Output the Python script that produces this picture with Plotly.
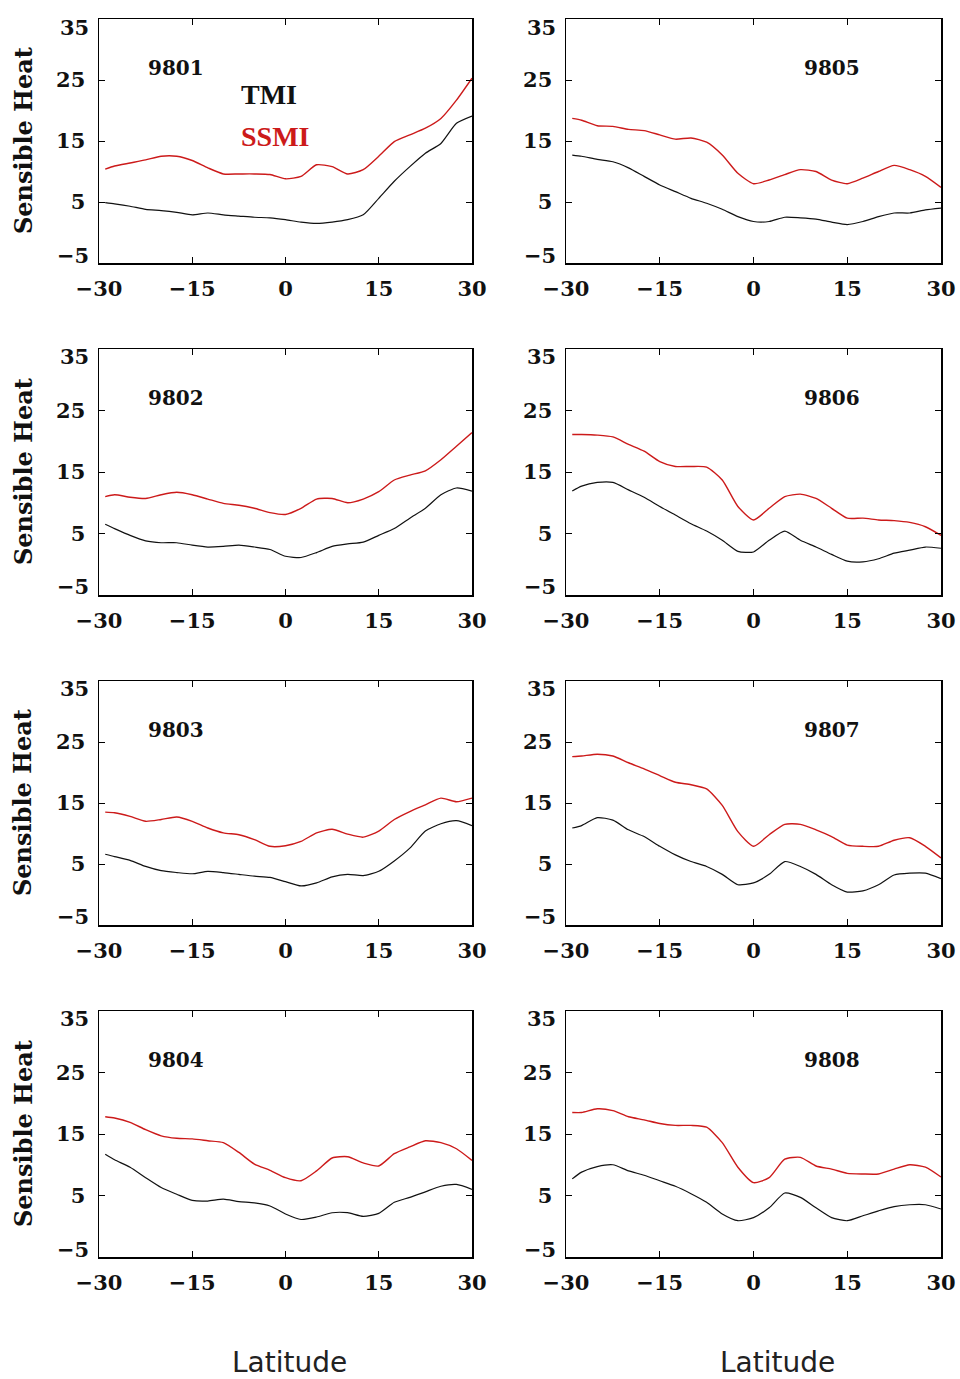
import plotly.graph_objects as go

# ---------------- data ----------------
LAT = [-29, -27.5, -25, -22.5, -20, -17.5, -15, -12.5, -10, -7.5, -5, -2.5, 0,
       2.5, 5, 7.5, 10, 12.5, 15, 17.5, 20, 22.5, 25, 27.5, 30]

MONTHS = ["9801", "9802", "9803", "9804", "9805", "9806", "9807", "9808"]

TMI_9801 = [4.9, 4.7, 4.3, 3.8, 3.6, 3.3, 2.9, 3.2, 2.9, 2.7, 2.5, 2.4, 2.1,
            1.7, 1.5, 1.7, 2.1, 2.9, 5.6, 8.4, 10.8, 13.0, 14.6, 17.9, 19.1]
SSMI_9801 = [10.4, 10.9, 11.4, 11.9, 12.5, 12.5, 11.8, 10.6, 9.6, 9.6, 9.6, 9.5, 8.8,
             9.2, 11.1, 10.8, 9.6, 10.3, 12.5, 14.9, 16.0, 17.1, 18.7, 21.7, 25.3]

TMI_9802 = [6.5, 5.8, 4.7, 3.8, 3.5, 3.5, 3.1, 2.8, 2.9, 3.1, 2.8, 2.4, 1.3,
            1.1, 1.9, 2.9, 3.3, 3.6, 4.7, 5.8, 7.5, 9.1, 11.3, 12.4, 11.9]
SSMI_9802 = [11.0, 11.3, 10.9, 10.7, 11.3, 11.7, 11.3, 10.6, 9.9, 9.6, 9.1, 8.4, 8.1,
             9.1, 10.6, 10.7, 10.0, 10.6, 11.8, 13.7, 14.5, 15.2, 17.0, 19.2, 21.4]

TMI_9803 = [6.6, 6.2, 5.6, 4.6, 3.9, 3.6, 3.4, 3.8, 3.6, 3.3, 3.0, 2.8, 2.1,
            1.4, 1.9, 2.9, 3.3, 3.1, 3.8, 5.5, 7.6, 10.4, 11.6, 12.1, 11.3]
SSMI_9803 = [13.5, 13.4, 12.8, 12.0, 12.3, 12.7, 12.0, 10.9, 10.1, 9.8, 9.0, 7.9, 8.0,
             8.7, 10.1, 10.7, 9.9, 9.4, 10.4, 12.3, 13.6, 14.7, 15.8, 15.2, 15.8]

TMI_9804 = [11.7, 10.8, 9.6, 7.9, 6.3, 5.2, 4.2, 4.1, 4.4, 4.0, 3.8, 3.3, 2.0,
            1.1, 1.5, 2.2, 2.2, 1.6, 2.1, 3.9, 4.7, 5.6, 6.5, 6.8, 6.0]
SSMI_9804 = [17.8, 17.6, 16.9, 15.7, 14.7, 14.3, 14.2, 13.9, 13.6, 12.0, 10.1, 9.1, 7.9,
             7.4, 9.0, 11.1, 11.3, 10.3, 9.8, 11.8, 12.9, 13.9, 13.6, 12.6, 10.7]

TMI_9805 = [12.7, 12.5, 12.0, 11.6, 10.6, 9.2, 7.8, 6.7, 5.6, 4.8, 3.8, 2.6, 1.8,
            1.8, 2.5, 2.4, 2.2, 1.7, 1.3, 1.8, 2.6, 3.2, 3.2, 3.7, 4.0]
SSMI_9805 = [18.7, 18.4, 17.5, 17.4, 16.9, 16.7, 16.0, 15.3, 15.5, 14.8, 12.7, 9.7, 8.0,
             8.6, 9.5, 10.3, 10.0, 8.6, 8.0, 8.9, 10.0, 11.0, 10.3, 9.2, 7.4]

TMI_9806 = [11.9, 12.7, 13.3, 13.3, 12.1, 10.9, 9.4, 8.0, 6.6, 5.4, 3.9, 2.1, 2.0,
            3.9, 5.4, 3.9, 2.8, 1.6, 0.5, 0.4, 0.9, 1.8, 2.3, 2.8, 2.6]
SSMI_9806 = [21.1, 21.1, 21.0, 20.7, 19.5, 18.4, 16.7, 15.9, 15.9, 15.8, 13.7, 9.4, 7.2,
             9.1, 11.0, 11.4, 10.7, 9.1, 7.5, 7.5, 7.2, 7.1, 6.8, 6.1, 4.7]

TMI_9807 = [10.9, 11.3, 12.6, 12.2, 10.6, 9.5, 7.9, 6.5, 5.4, 4.6, 3.3, 1.6, 1.9,
            3.3, 5.4, 4.6, 3.3, 1.6, 0.4, 0.6, 1.6, 3.2, 3.5, 3.5, 2.6]
SSMI_9807 = [22.6, 22.7, 23.0, 22.7, 21.6, 20.6, 19.5, 18.4, 18.0, 17.3, 14.6, 10.3, 7.9,
             9.8, 11.5, 11.5, 10.6, 9.5, 8.1, 7.9, 7.9, 8.9, 9.3, 7.9, 6.0]

TMI_9808 = [7.7, 8.8, 9.7, 10.0, 9.0, 8.3, 7.4, 6.5, 5.3, 3.9, 2.0, 0.9, 1.4,
            3.0, 5.4, 4.7, 3.0, 1.4, 0.9, 1.7, 2.5, 3.2, 3.5, 3.5, 2.8]
SSMI_9808 = [18.5, 18.5, 19.1, 18.8, 17.8, 17.3, 16.7, 16.4, 16.4, 16.1, 13.6, 9.6, 7.1,
             7.9, 10.9, 11.2, 9.8, 9.3, 8.6, 8.5, 8.5, 9.3, 10.0, 9.6, 8.0]

TMI = [TMI_9801, TMI_9802, TMI_9803, TMI_9804, TMI_9805, TMI_9806, TMI_9807, TMI_9808]
SSMI = [SSMI_9801, SSMI_9802, SSMI_9803, SSMI_9804, SSMI_9805, SSMI_9806, SSMI_9807, SSMI_9808]

X_TICKS = [-30, -15, 0, 15, 30]
Y_TICKS = [5, 15, 25]
Y_END_LABELS = [35, -5]
Y_TITLE = "Sensible Heat"
X_TITLE = "Latitude"
SERIES_NAMES = ["TMI", "SSMI"]

# ---------------- layout geometry (pixels) ----------------
W, H = 960, 1379
COL_PX = [(99, 472), (566, 941)]
ROW_PX = [(19, 263), (349, 595), (681, 925), (1011, 1257)]
X_TITLE_CENTERS = [289, 777]

BLACK = "#111111"
RED = "#cc1a1a"
SERIF = "DejaVu Serif"
TICK_FONT = dict(family=SERIF, size=21, weight="bold", color=BLACK)

fig = go.Figure()
layout = dict(width=W, height=H,
              margin=dict(l=0, r=0, t=0, b=0, pad=0, autoexpand=False),
              paper_bgcolor="white", plot_bgcolor="white", showlegend=False)
annotations = []

for i, month in enumerate(MONTHS):
    col = i // 4
    row = i % 4
    n = i + 1
    xa = "xaxis" if n == 1 else f"xaxis{n}"
    ya = "yaxis" if n == 1 else f"yaxis{n}"
    xr = "x" if n == 1 else f"x{n}"
    yr = "y" if n == 1 else f"y{n}"
    x0, x1 = COL_PX[col]
    t, b = ROW_PX[row]
    layout[xa] = dict(
        domain=[x0 / W, x1 / W], anchor=yr, range=[-30, 30], automargin=False,
        tickvals=X_TICKS, ticks="inside", ticklen=6, tickwidth=1, tickcolor="black",
        showline=True, linecolor="black", linewidth=1.5, mirror="ticks",
        showgrid=False, zeroline=False, ticklabelstandoff=6, tickfont=TICK_FONT,
    )
    layout[ya] = dict(
        domain=[1 - b / H, 1 - t / H], anchor=xr, range=[-5, 35], automargin=False,
        tickvals=Y_TICKS, ticks="inside", ticklen=6, tickwidth=1, tickcolor="black",
        showline=True, linecolor="black", linewidth=1.5, mirror="ticks",
        showgrid=False, zeroline=False, ticklabelstandoff=8, tickfont=TICK_FONT,
    )
    fig.add_trace(go.Scatter(x=LAT, y=SSMI[i], mode="lines", name=SERIES_NAMES[1],
                             xaxis=xr, yaxis=yr,
                             line=dict(color=RED, width=1.4, shape="spline", smoothing=0.6)))
    fig.add_trace(go.Scatter(x=LAT, y=TMI[i], mode="lines", name=SERIES_NAMES[0],
                             xaxis=xr, yaxis=yr,
                             line=dict(color=BLACK, width=1.2, shape="spline", smoothing=0.6)))
    # end tick labels (35 / -5), drawn slightly inside the box like the original
    for v, shift in zip(Y_END_LABELS, [-8, 8]):
        txt = str(v).replace("-", "\u2212")
        annotations.append(dict(
            text=txt, xref=f"{xr} domain", yref=yr, x=0, y=v, xshift=-8, yshift=shift,
            xanchor="right", yanchor="middle", showarrow=False, font=TICK_FONT))
    # panel label
    annotations.append(dict(
        text=month, xref=xr, yref=yr, x=-17.6 if col == 0 else 12.5, y=27,
        xanchor="center", yanchor="middle", showarrow=False,
        font=dict(family=SERIF, size=20, weight="bold", color=BLACK)))
    if col == 0:
        annotations.append(dict(
            text=Y_TITLE, xref="paper", yref="paper", x=23 / W, y=1 - (t + b) / 2 / H,
            textangle=-90, xanchor="center", yanchor="middle", showarrow=False,
            font=dict(family=SERIF, size=24, weight="bold", color=BLACK)))

# legend text in first panel
annotations.append(dict(text=SERIES_NAMES[0], xref="x", yref="y", x=-7.5, y=22.7,
                        xanchor="left", yanchor="middle", showarrow=False,
                        font=dict(family="Liberation Serif", size=28, weight="bold", color=BLACK)))
annotations.append(dict(text=SERIES_NAMES[1], xref="x", yref="y", x=-7.5, y=15.7,
                        xanchor="left", yanchor="middle", showarrow=False,
                        font=dict(family="Liberation Serif", size=28, weight="bold", color=RED)))

# x titles
for cx in X_TITLE_CENTERS:
    annotations.append(dict(text=X_TITLE, xref="paper", yref="paper",
                            x=cx / W, y=1 - 1362 / H,
                            xanchor="center", yanchor="middle", showarrow=False,
                            font=dict(family="DejaVu Sans", size=28, color="#222222")))

layout["annotations"] = annotations
fig.update_layout(**layout)
fig.write_html("out.html",
               config={"displayModeBar": False, "staticPlot": True},
               post_script="document.body.style.margin='0';document.body.style.overflow='hidden';")
